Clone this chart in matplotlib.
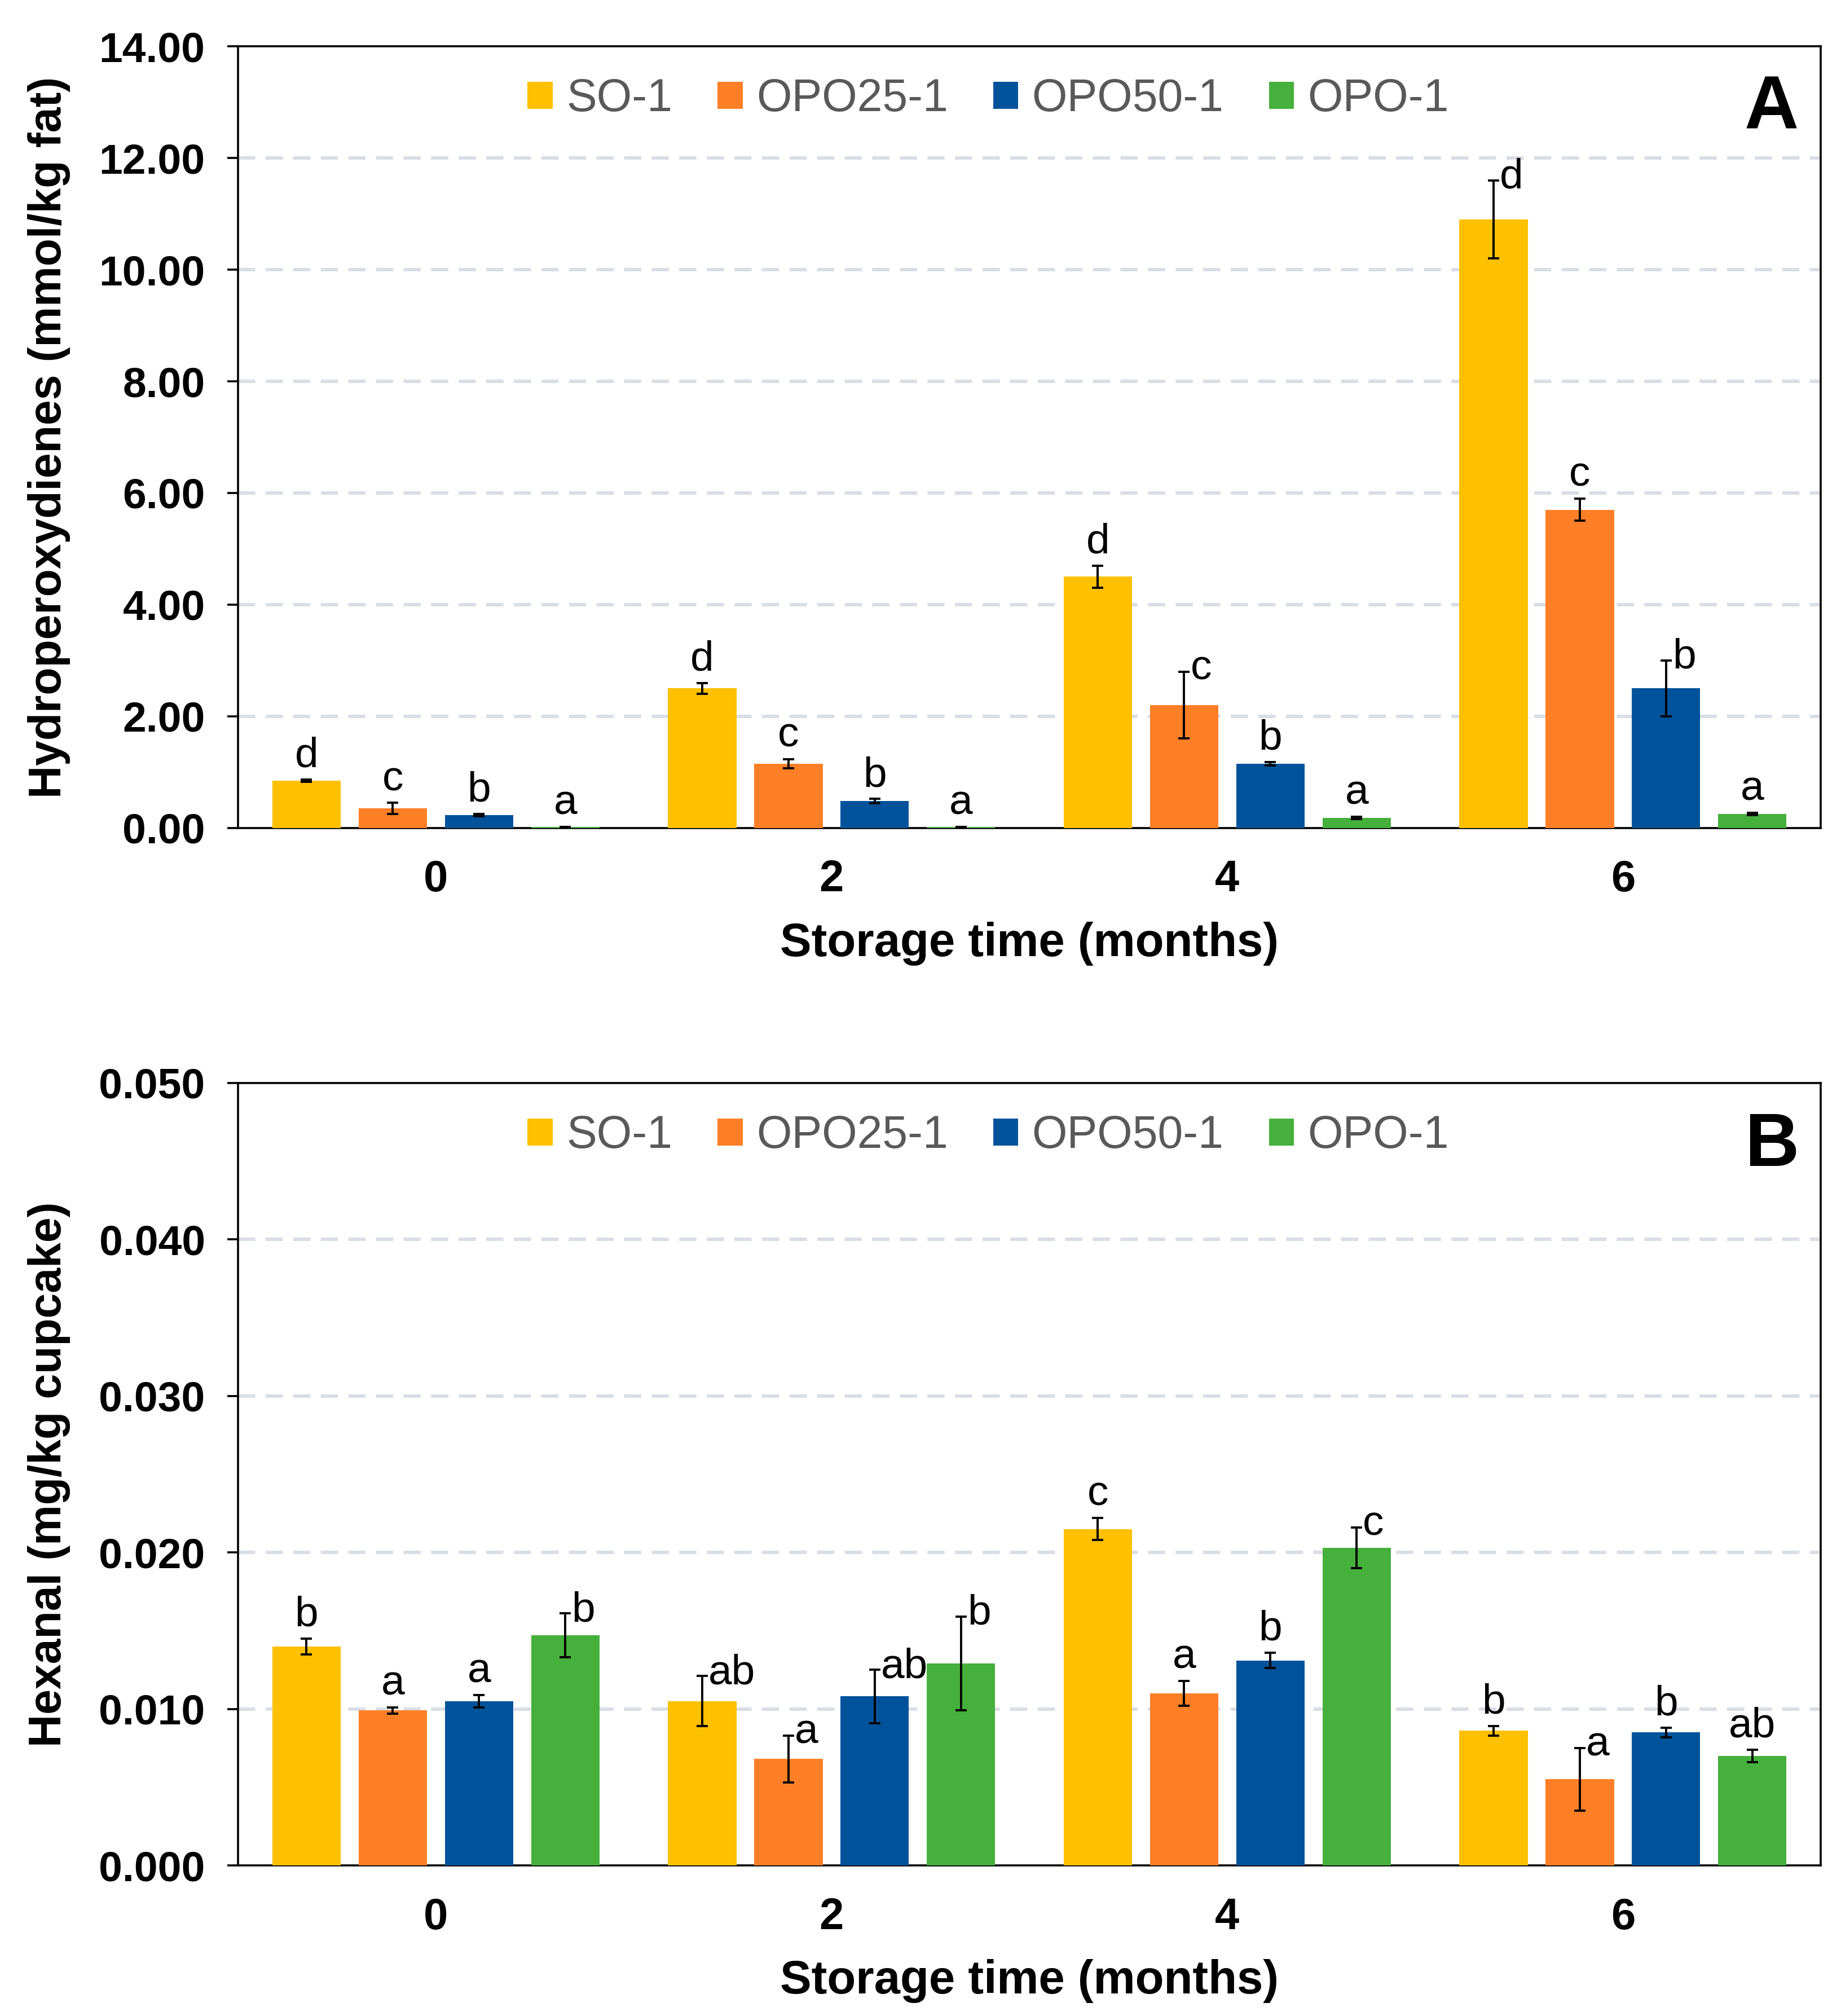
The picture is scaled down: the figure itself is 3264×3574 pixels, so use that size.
import numpy as np
import matplotlib
matplotlib.use("Agg")
import matplotlib.pyplot as plt
from matplotlib.patches import Patch

plt.rcParams['font.family'] = ['Liberation Sans', 'DejaVu Sans']

months = ['0', '2', '4', '6']
series = ['SO-1', 'OPO25-1', 'OPO50-1', 'OPO-1']
colors = ['#FFC000', '#FF7F27', '#00539B', '#45B03B']

# Panel A: hydroperoxydienes (mmol/kg fat), rows = series, cols = months
hpd_mean = [[0.85, 2.50, 4.50, 10.90],
            [0.35, 1.15, 2.20, 5.70],
            [0.23, 0.48, 1.15, 2.50],
            [0.02, 0.02, 0.18, 0.25]]
hpd_err = [[0.02, 0.10, 0.20, 0.70],
           [0.10, 0.08, 0.60, 0.20],
           [0.02, 0.04, 0.03, 0.50],
           [0.00, 0.00, 0.02, 0.02]]
hpd_letters = [['d', 'd', 'd', 'd'],
               ['c', 'c', 'c', 'c'],
               ['b', 'b', 'b', 'b'],
               ['a', 'a', 'a', 'a']]
hpd_side = [[0, 0, 0, 1],
            [0, 0, 1, 0],
            [0, 0, 0, 1],
            [0, 0, 0, 0]]

# Panel B: hexanal (mg/kg cupcake)
hex_mean = [[0.0140, 0.0105, 0.0215, 0.0086],
            [0.0099, 0.0068, 0.0110, 0.0055],
            [0.0105, 0.0108, 0.0131, 0.0085],
            [0.0147, 0.0129, 0.0203, 0.0070]]
hex_err = [[0.0005, 0.0016, 0.0007, 0.0003],
           [0.0002, 0.0015, 0.0008, 0.0020],
           [0.0004, 0.0017, 0.0005, 0.0003],
           [0.0014, 0.0030, 0.0013, 0.0004]]
hex_letters = [['b', 'ab', 'c', 'b'],
               ['a', 'a', 'a', 'a'],
               ['a', 'ab', 'b', 'b'],
               ['b', 'b', 'c', 'ab']]
hex_side = [[0, 1, 0, 0],
            [0, 1, 0, 1],
            [0, 1, 0, 0],
            [1, 1, 1, 0]]

grid_color = '#D9DEE6'
text_gray = '#595959'


def draw_panel(ax, means, errs, letters, sides, ymax, yticks, fmt, ylabel, tag):
    x = np.arange(len(months))
    step = 0.218
    width = 0.173
    for i, name in enumerate(series):
        xs = x + (i - 1.5) * step
        ax.bar(xs, means[i], width, color=colors[i], zorder=3)
        ax.errorbar(xs, means[i], yerr=errs[i], fmt='none', ecolor='black',
                    elinewidth=1.4, capsize=3.6, capthick=1.4, zorder=4)
        for j in range(len(months)):
            top = means[i][j] + errs[i][j]
            if sides[i][j]:
                ax.annotate(letters[i][j], (xs[j], top), xytext=(4, 2),
                            textcoords='offset points', ha='left',
                            va='center', fontsize=27, zorder=5)
            else:
                ax.annotate(letters[i][j], (xs[j], top), xytext=(0, 8),
                            textcoords='offset points', ha='center',
                            va='baseline', fontsize=27, zorder=5)

    ax.set_xlim(-0.5, 3.5)
    ax.set_ylim(0, ymax)
    ax.set_xticks(x)
    ax.set_xticklabels(months)
    ax.set_yticks(yticks)
    ax.set_yticklabels([fmt.format(v) for v in yticks])
    for v in yticks[1:-1]:
        ax.axhline(v, color=grid_color, lw=2.2, ls=(0, (5, 3)), zorder=1)

    ax.tick_params(axis='x', length=0, pad=20, labelsize=28)
    ax.tick_params(axis='y', length=7, width=1.3, pad=14, labelsize=27)
    for lab in ax.get_xticklabels() + ax.get_yticklabels():
        lab.set_fontweight('bold')
    for sp in ax.spines.values():
        sp.set_linewidth(1.3)
        sp.set_color('black')

    ax.set_xlabel('Storage time (months)', fontsize=30, fontweight='bold')
    ax.xaxis.set_label_coords(0.5, -0.12)
    ax.set_ylabel(ylabel, fontsize=29, fontweight='bold')
    ax.yaxis.set_label_coords(-0.106, 0.5)

    handles = [Patch(facecolor=c, edgecolor='none') for c in colors]
    ax.legend(handles, series, loc='center', bbox_to_anchor=(0.474, 0.932),
              ncol=4, frameon=False, fontsize=29, labelcolor=text_gray,
              handlelength=0.55, handleheight=0.55, handletextpad=0.3,
              columnspacing=1.0)

    ax.text(0.969, 0.919, tag, transform=ax.transAxes, fontsize=48,
            fontweight='bold', ha='center', va='center')


fig = plt.figure(figsize=(16.32, 17.87), dpi=200)
ax_a = fig.add_axes([0.1293, 0.5893, 0.8597, 0.3877])
ax_b = fig.add_axes([0.1293, 0.0747, 0.8597, 0.3881])

draw_panel(ax_a, hpd_mean, hpd_err, hpd_letters, hpd_side, 14,
           [0, 2, 4, 6, 8, 10, 12, 14], '{:.2f}',
           'Hydroperoxydienes (mmol/kg fat)', 'A')
draw_panel(ax_b, hex_mean, hex_err, hex_letters, hex_side, 0.05,
           [0, 0.01, 0.02, 0.03, 0.04, 0.05], '{:.3f}',
           'Hexanal (mg/kg cupcake)', 'B')

fig.savefig('out.png', dpi=200, facecolor='white')
